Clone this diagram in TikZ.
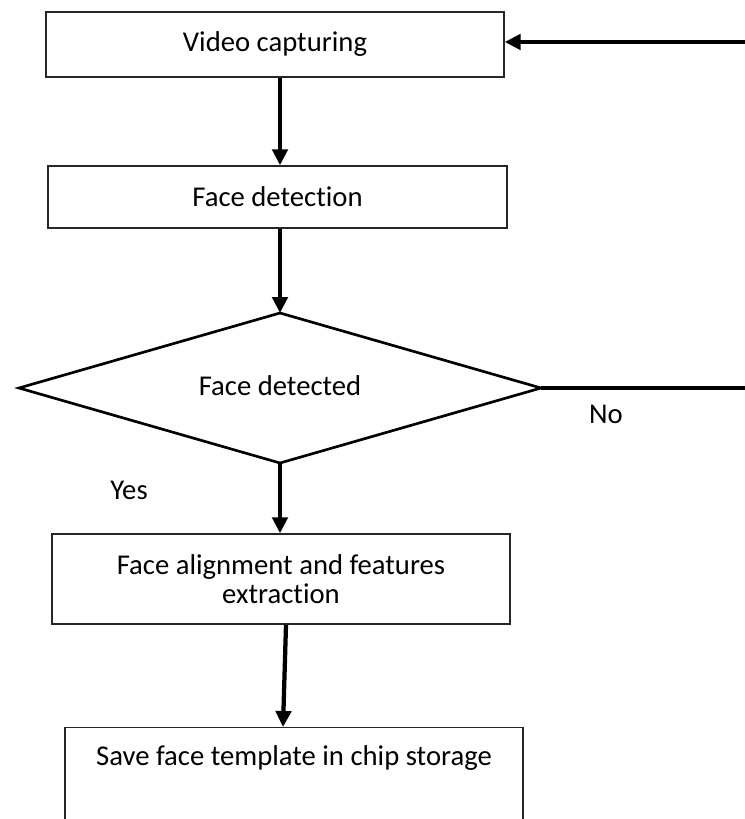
\documentclass[tikz,border=0pt]{standalone}
\usepackage{fontspec}
\setmainfont{Carlito}[Ligatures=NoCommon]
\usetikzlibrary{shapes.geometric,arrows.meta}

\tikzset{every picture/.style={line width=0.75pt}}

\begin{document}
\begin{tikzpicture}[x=0.75pt,y=0.75pt,yscale=-1,xscale=1,
	font=\fontsize{21.5}{21.5}\selectfont,
	procbox/.style={draw=black!85, line width=1.1pt, rectangle, inner sep=0pt, align=center},
	decbox/.style={draw, line width=2pt, diamond, aspect=3.48, inner sep=0pt, outer sep=0pt},
	flow/.style={line width=3.2pt, -{Triangle[length=12pt,width=11.5pt]}}]
	%set diagram left start at 0, and has height of 819
	\useasboundingbox (0,0) rectangle (744,819);
	
	%Shape: Rectangle [id:capture] 
	\node [procbox, minimum width=343.5pt, minimum height=48.75pt] (capture) at (275,44.5) {Video capturing};
	%Shape: Rectangle [id:detect] 
	\node [procbox, minimum width=344.25pt, minimum height=46.5pt] (detect) at (277.5,197) {Face detection};
	%Shape: Diamond [id:found] 
	\node [decbox, minimum width=391.5pt, minimum height=112.5pt] (found) at (280,388) {\raisebox{4pt}{Face detected}};
	%Shape: Rectangle [id:extract] 
	\node [procbox, minimum width=343.5pt, minimum height=67.5pt] (extract) at (281,579) {Face alignment and features\\extraction};
	%Shape: Rectangle [id:store] 
	\node [procbox, anchor=north, minimum width=343.5pt, inner ysep=0pt, text height=28pt, text depth=54.5pt] (store) at (294,727) {Save face template in chip storage};
	
	%Straight Lines [id:flow] 
	\draw [flow] (capture.south -| found.north) -- (detect.north -| found.north) ;
	\draw [flow] (detect.south -| found.north) -- (found.north) ;
	\draw [flow] (found.south) -- (extract.north -| found.south) ;
	\draw [flow] ([xshift=3.75pt]extract.south) -- ([xshift=-8.25pt]store.north) ;
	%Loop back [id:back] 
	\coordinate (back) at (750,388);
	\draw [flow] (found.east) -- (back) |- ([yshift=-1.9pt]capture.east) ;
	
	% Text Node
	\node (no) at (606,414) {No};
	% Text Node
	\node (yes) at (129,490) {Yes};
	
\end{tikzpicture}
\end{document}
